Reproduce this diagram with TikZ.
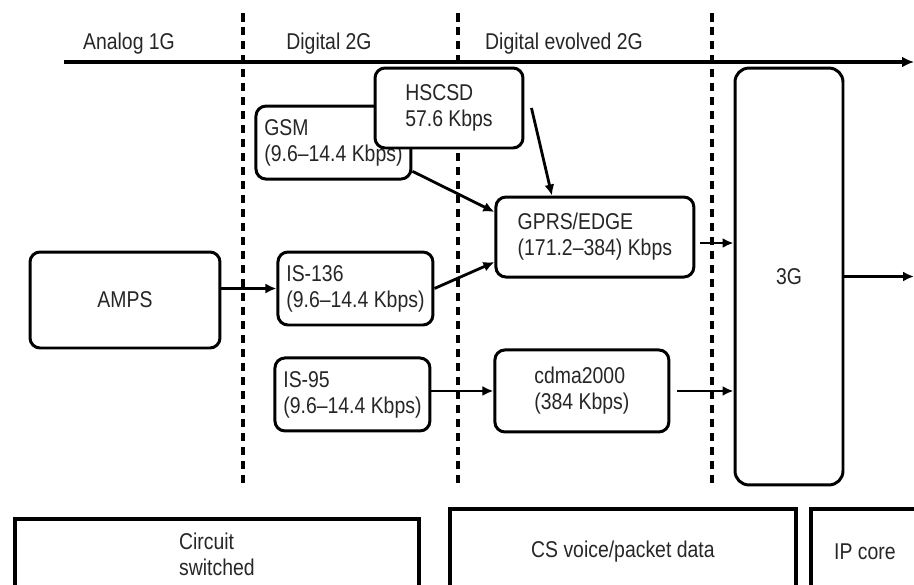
\documentclass[tikz,border=0pt]{standalone}
\usepackage{fontspec}
\setmainfont{Liberation Sans}[FakeStretch=0.85]
\usepackage{tikz}
\usetikzlibrary{arrows.meta, positioning}

\begin{document}
\begin{tikzpicture}[
  x=0.02cm, y=-0.02cm,
  font=\fontsize{13}{14.8}\selectfont,
  unit/.style={rectangle, draw, line width=1.7pt, rounded corners=0.2cm, fill=white, align=left, text=black!85, inner sep=0pt},
  core/.style={rectangle, draw, line width=2.2pt, anchor=north west, align=left, text=black!85, inner sep=0pt, minimum height=1.72cm},
  era/.style={text=black!85},
  divider/.style={line width=1.9pt, dash pattern=on 0.17cm off 0.11cm},
  timeline/.style={-{Latex[length=2.4mm, width=2.2mm]}, line width=2pt},
  arr/.style={-{Latex[length=2.2mm, width=2mm]}, line width=1.6pt},
]
\useasboundingbox (0,0) rectangle (914,585);

% Time axis and generation borders
\coordinate (tstart) at (64,62);
\coordinate (tend) at (914,62);
\draw[timeline] (tstart) -- (tend);
\foreach \x in {243,458,712}
  \draw[divider] (\x,13) -- (\x,488);

\node[era] (analog) at (129,44) {Analog 1G};
\node[era] (dig2g) at (329,44) {Digital 2G};
\node[era] (evo2g) at (564,44) {Digital evolved 2G};

% 1G
\node[unit, minimum width=3.8cm, minimum height=1.92cm] (amps) at (125,300) {AMPS};

% 2G
\node[unit, minimum width=3.1cm, minimum height=1.46cm, right=1.1cm of amps, yshift=0.23cm] (is136) {IS-136\\(9.6--14.4 Kbps)};
\node[unit, minimum width=3.1cm, minimum height=1.46cm, below=0.6cm of is136, xshift=-0.06cm] (is95) {IS-95\\(9.6--14.4 Kbps)};
\node[unit, minimum width=3.1cm, minimum height=1.46cm, above=1.4cm of is136, xshift=-0.44cm] (gsm) {GSM\\(9.6--14.4 Kbps)};

% Evolved 2G
\node[unit, minimum width=2.96cm, minimum height=1.6cm] (hscsd) at (449,108) {HSCSD\\57.6 Kbps};
\node[unit, minimum width=3.48cm, minimum height=1.64cm, right=1.24cm of is95, yshift=0.07cm] (cdma) {cdma2000\\(384 Kbps)};
\node[unit, minimum width=3.96cm, minimum height=1.6cm, above=1.4cm of cdma, xshift=0.26cm] (gprs) {GPRS/EDGE\\(171.2--384) Kbps};

% 3G
\node[unit, rounded corners=0.28cm, minimum width=2.16cm, minimum height=8.34cm] (g3) at (789,276.5) {3G};
\coordinate (exit) at (914,276.5);

% Core networks
\node[core, minimum width=8.08cm, minimum height=1.4cm] (circuit) at (13,517) {Circuit\\switched};
\node[core, minimum width=6.92cm] (csdata) at (448,507) {CS voice/packet data};
\node[core, minimum width=2.16cm] (ipcore) at (809,507) {IP core};

% Arrows
\draw[arr] (amps.east |- is136.west) -- (is136.west);
\draw[arr] (gsm.-20) -- (gprs.166);
\draw[arr] (is136.east) -- (gprs.194);
\draw[arr] ([xshift=0.14cm]hscsd.east) -- (gprs.136);
\draw[arr] (is95.east |- cdma.west) -- (cdma.west);
\draw[arr] ([shift={(0.1cm,-0.12cm)}]gprs.east) -- ([yshift=-0.12cm]gprs.east -| g3.west);
\draw[arr] ([xshift=0.14cm]cdma.east) -- (cdma.east -| g3.west);
\draw[arr] (g3.east) -- (exit);

\end{tikzpicture}
\end{document}
